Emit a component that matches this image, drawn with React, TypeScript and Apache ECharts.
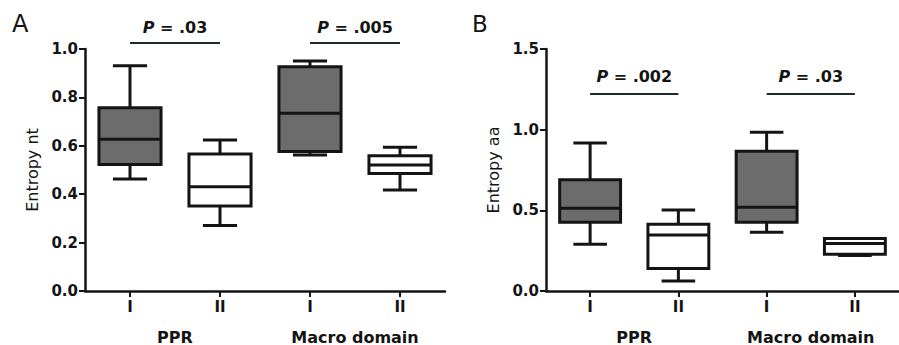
import React, { useEffect, useRef } from "react";
import * as echarts from "echarts";

const categories = ["I", "II", "I", "II"];
const groups = ["PPR", "Macro domain"];
// [min, q1, median, q3, max]
const ntStats = [
  [0.463, 0.523, 0.627, 0.757, 0.931],
  [0.271, 0.351, 0.431, 0.566, 0.624],
  [0.562, 0.576, 0.734, 0.927, 0.95],
  [0.417, 0.486, 0.521, 0.559, 0.594],
];
const aaStats = [
  [0.289, 0.426, 0.513, 0.689, 0.918],
  [0.062, 0.139, 0.347, 0.413, 0.502],
  [0.364, 0.426, 0.519, 0.866, 0.984],
  [0.22, 0.228, 0.294, 0.325, 0.325],
];
const filled = [1, 0, 1, 0];
// [from, to, lineY, textY]
const ntSig = [
  [0, 1, 1.025, 1.087],
  [2, 3, 1.025, 1.087],
];
const ntSigLabels = [".03", ".005"];
const aaSig = [
  [0, 1, 1.221, 1.327],
  [2, 3, 1.221, 1.327],
];
const aaSigLabels = [".002", ".03"];

const INK = "#141414";
const GRAY = "#6c6c6c";

function boxRender(params: any, api: any) {
  const x = api.value(0);
  const mn = api.value(1), q1 = api.value(2), md = api.value(3), q3 = api.value(4), mx = api.value(5);
  const fill = api.value(6) ? GRAY : "#ffffff";
  const c = (v: number) => api.coord([x, v]);
  const band = api.size([1, 0])[0];
  const bw = band * 0.69;
  const cw = band * 0.38;
  const [cx, yMin] = c(mn);
  const yQ1 = c(q1)[1], yMd = c(md)[1], yQ3 = c(q3)[1], yMax = c(mx)[1];
  const ls = { stroke: INK, lineWidth: 3 };
  return {
    type: "group",
    children: [
      { type: "line", shape: { x1: cx, y1: yQ3, x2: cx, y2: yMax }, style: ls },
      { type: "line", shape: { x1: cx, y1: yQ1, x2: cx, y2: yMin }, style: ls },
      { type: "line", shape: { x1: cx - cw / 2, y1: yMax, x2: cx + cw / 2, y2: yMax }, style: ls },
      { type: "line", shape: { x1: cx - cw / 2, y1: yMin, x2: cx + cw / 2, y2: yMin }, style: ls },
      {
        type: "rect",
        shape: { x: cx - bw / 2, y: yQ3, width: bw, height: yQ1 - yQ3 },
        style: { fill, stroke: INK, lineWidth: 3 },
      },
      { type: "line", shape: { x1: cx - bw / 2, y1: yMd, x2: cx + bw / 2, y2: yMd }, style: ls },
    ],
  };
}

function sigRender(labels: string[]) {
  return (params: any, api: any) => {
    const a = api.coord([api.value(0), api.value(2)]);
    const b = api.coord([api.value(1), api.value(2)]);
    const t = api.coord([api.value(0), api.value(3)]);
    const mid = (a[0] + b[0]) / 2;
    return {
      type: "group",
      children: [
        { type: "line", shape: { x1: a[0], y1: a[1], x2: b[0], y2: b[1] }, style: { stroke: "#1e2a2c", lineWidth: 2 } },
        {
          type: "text",
          x: mid,
          y: t[1],
          style: {
            text: "{p|P}{r| = " + labels[params.dataIndex] + "}",
            align: "center",
            verticalAlign: "middle",
            fill: INK,
            rich: {
              p: { fontFamily: "DejaVu Sans", fontSize: 16, fontWeight: "bold", fontStyle: "italic", fill: INK },
              r: { fontFamily: "DejaVu Sans", fontSize: 16, fontWeight: "bold", fill: INK },
            },
          },
        },
      ],
    };
  };
}

function makeAxes(gridIndex: number) {
  const mainX = {
    type: "category",
    gridIndex,
    data: categories,
    boundaryGap: true,
    axisLine: { show: true, lineStyle: { color: INK, width: 2.5 } },
    axisTick: { show: true, alignWithLabel: true, length: 6, lineStyle: { color: INK, width: 2 } },
    axisLabel: { color: INK, fontFamily: "DejaVu Sans", fontWeight: "bold", fontSize: 15, margin: 8 },
    splitLine: { show: false },
  };
  const groupX = {
    type: "category",
    gridIndex,
    data: groups,
    position: "bottom",
    offset: 30,
    axisLine: { show: false },
    axisTick: { show: false },
    axisLabel: { color: INK, fontFamily: "DejaVu Sans", fontWeight: "bold", fontSize: 16, margin: 8 },
    splitLine: { show: false },
  };
  return [mainX, groupX];
}

function makeY(gridIndex: number, max: number, interval: number, name: string) {
  return {
    type: "value",
    gridIndex,
    min: 0,
    max,
    interval,
    name,
    nameLocation: "middle",
    nameGap: 45,
    nameTextStyle: { color: INK, fontFamily: "DejaVu Sans", fontSize: 16 },
    axisLine: { show: true, lineStyle: { color: INK, width: 2.5 } },
    axisTick: { show: true, length: 6, lineStyle: { color: INK, width: 2 } },
    axisLabel: {
      color: INK,
      fontFamily: "DejaVu Sans",
      fontWeight: "bold",
      fontSize: 15,
      margin: 7,
      formatter: (v: number) => v.toFixed(1),
    },
    splitLine: { show: false },
  };
}

export default function App() {
  const ref = useRef<HTMLDivElement>(null);
  useEffect(() => {
    if (!ref.current) return;
    const chart = echarts.init(ref.current, null, { renderer: "svg" });
    const boxData = (stats: number[][]) => stats.map((s, i) => [i, ...s, filled[i]]);
    chart.setOption({
      animation: false,
      backgroundColor: "#ffffff",
      grid: [
        { left: 85, top: 49, width: 360, height: 242 },
        { left: 546, top: 49, width: 361, height: 242 },
      ],
      xAxis: [...makeAxes(0), ...makeAxes(1)],
      yAxis: [makeY(0, 1.0, 0.2, "Entropy nt"), makeY(1, 1.5, 0.5, "Entropy aa")],
      graphic: [
        { type: "text", left: 12, top: 12, style: { text: "A", fontFamily: "DejaVu Sans", fontSize: 24, fill: INK } },
        { type: "text", left: 472, top: 12, style: { text: "B", fontFamily: "DejaVu Sans", fontSize: 23, fill: INK } },
      ],
      series: [
        {
          type: "custom",
          xAxisIndex: 0,
          yAxisIndex: 0,
          renderItem: boxRender,
          encode: { x: 0, y: [1, 2, 3, 4, 5] },
          data: boxData(ntStats),
        },
        {
          type: "custom",
          xAxisIndex: 2,
          yAxisIndex: 1,
          renderItem: boxRender,
          encode: { x: 0, y: [1, 2, 3, 4, 5] },
          data: boxData(aaStats),
        },
        {
          type: "custom",
          xAxisIndex: 0,
          yAxisIndex: 0,
          clip: false,
          renderItem: sigRender(ntSigLabels),
          encode: { x: [0, 1], y: [2] },
          data: ntSig,
        },
        {
          type: "custom",
          xAxisIndex: 2,
          yAxisIndex: 1,
          clip: false,
          renderItem: sigRender(aaSigLabels),
          encode: { x: [0, 1], y: [2] },
          data: aaSig,
        },
      ],
    });
    return () => chart.dispose();
  }, []);
  return (
    <div
      ref={ref}
      style={{ position: "fixed", left: 0, top: 0, width: 899, height: 345, background: "#fff" }}
    />
  );
}
